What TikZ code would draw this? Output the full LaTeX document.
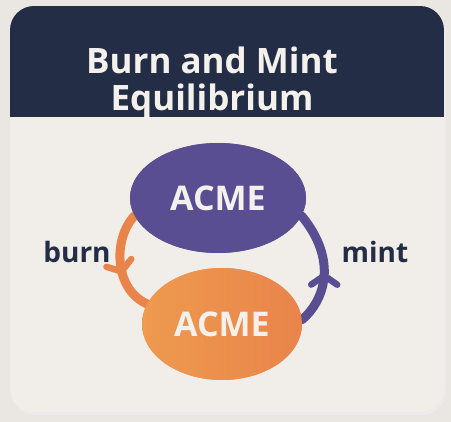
\documentclass[tikz,border=0pt]{standalone}
\usepackage{fontspec}
\setmainfont{Open Sans}
\usetikzlibrary{decorations.markings,arrows.meta,shapes.geometric}
\definecolor{bgout}{HTML}{EAE7E2}
\definecolor{card}{HTML}{F1EEE9}
\definecolor{navy}{HTML}{232D45}
\definecolor{purp}{HTML}{5A4E93}
\definecolor{orng}{HTML}{E9844A}
\definecolor{orngl}{HTML}{EE9A4F}
\definecolor{txtw}{HTML}{F4F1EC}
\tikzset{
  blob/.style={ellipse, minimum width=#1, inner sep=0pt, font=\fontsize{34}{34}\selectfont\bfseries, text=txtw},
  lbl/.style={font=\fontsize{28}{28}\selectfont\bfseries, text=navy},
  flow/.style={line width=9pt, line cap=round},
  midarrow/.style={postaction={decorate}, decoration={markings, mark=at position #1 with {\arrow{Straight Barb[length=9pt,width=26pt,line width=6.5pt,line cap=round]}}}}
}
\begin{document}
\begin{tikzpicture}[x=1pt,y=-1pt]
\useasboundingbox (0,0) rectangle (451,422);
\fill[bgout] (0,0) rectangle (451,422);
% card
\fill[black!8, rounded corners=24pt] (11,9) rectangle (446,415);
\fill[card, rounded corners=24pt] (10,6) rectangle (444,412);
\begin{scope}
\clip[rounded corners=24pt] (10,6) rectangle (444,412);
\fill[navy] (10,6) rectangle (444,117);
\end{scope}
\node[font=\fontsize{35}{37}\selectfont\bfseries, text=txtw, align=center] (title) at (212,83) {Burn and Mint\\Equilibrium};
% shapes
\node[blob, minimum width=176pt, minimum height=110pt, fill=purp] (top) at (218,198) {};
\node[blob, minimum width=160pt, minimum height=112pt, left color=orngl, right color=orng] (bot) at (222,324) {};
\draw[flow, purp, midarrow=0.47] (bot.3) .. controls (325,300) and (338,260) .. (top.-12);
\draw[flow, orng, midarrow=0.62] (top.192) .. controls (112,240) and (115,290) .. (bot.165);
\node[blob, minimum width=176pt, minimum height=110pt, fill=purp] (top2) at (218,198) {ACME};
\node[blob, minimum width=160pt, minimum height=112pt, left color=orngl, right color=orng] (bot2) at (222,324) {ACME};
\node[lbl, anchor=base] (burn) at (77,263) {burn};
\node[lbl, anchor=base] (mint) at (375,263) {mint};
\end{tikzpicture}
\end{document}
